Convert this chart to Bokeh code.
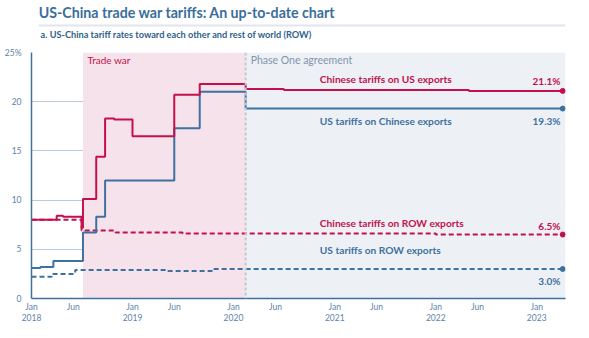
import pandas as pd
from bokeh.plotting import figure
from bokeh.layouts import column
from bokeh.models import Range1d, FixedTicker, BoxAnnotation, Span, Label
from bokeh.core.properties import value
from bokeh.embed import file_html
from bokeh.resources import INLINE

# ---- data ----
cn_us_dates = ["2018-01-01", "2018-04-02", "2018-04-25", "2018-07-01", "2018-07-06", "2018-08-23",
               "2018-09-24", "2018-10-27", "2019-01-01", "2019-06-01", "2019-09-01", "2020-02-14",
               "2020-07-01", "2022-05-01", "2023-04-05"]
cn_us_vals = [8.0, 8.4, 8.3, 7.2, 10.1, 14.4, 18.3, 18.2, 16.5, 20.7, 21.8, 21.3, 21.2, 21.1, 21.1]

us_cn_dates = ["2018-01-01", "2018-02-02", "2018-03-21", "2018-07-06", "2018-08-23", "2018-09-24",
               "2019-06-01", "2019-09-01", "2020-02-14", "2023-04-05"]
us_cn_vals = [3.1, 3.2, 3.8, 6.7, 8.3, 12.0, 17.3, 21.0, 19.3, 19.3]

cn_row_dates = ["2018-01-01", "2018-07-01", "2018-11-01", "2019-07-01", "2022-01-01", "2023-04-05"]
cn_row_vals = [8.0, 6.9, 6.7, 6.6, 6.5, 6.5]

us_row_dates = ["2018-01-01", "2018-03-15", "2018-06-08", "2019-05-10", "2019-10-15", "2023-04-05"]
us_row_vals = [2.2, 2.5, 2.9, 2.8, 3.0, 3.0]

tick_dates = ["2018-01-01", "2018-06-01", "2019-01-01", "2019-06-01", "2020-01-01", "2020-06-01",
              "2021-01-01", "2021-06-01", "2022-01-01", "2022-06-01", "2023-01-01"]
tick_labels = ["Jan\n2018", "Jun", "Jan\n2019", "Jun", "Jan\n2020", "Jun",
               "Jan\n2021", "Jun", "Jan\n2022", "Jun", "Jan\n2023"]
y_ticks = [0, 5, 10, 15, 20, 25]
y_labels = ["0", "5", "10", "15", "20", "25%"]

trade_war_start = "2018-07-06"
phase_one_start = "2020-02-14"

title_text = "US-China trade war tariffs: An up-to-date chart"
subtitle_text = "a. US-China tariff rates toward each other and rest of world (ROW)"


def ms(d):
    return pd.Timestamp(d).value / 1e6


RED = "#c4104c"
BLUE = "#3f71a0"
FONT = "Lato"

# ---- header ----
h = figure(width=589, height=46, output_backend="svg", toolbar_location=None,
           x_axis_location=None, y_axis_location=None, min_border=0,
           x_range=Range1d(0, 589), y_range=Range1d(46, 0))
h.outline_line_color = None
h.grid.grid_line_color = None
h.text(x=[8], y=[12], text=[title_text], text_baseline="middle", text_font=value(FONT),
       text_font_size="14.2px", text_font_style="bold", text_color="#3a6e9b")
h.segment(x0=[8], y0=[25], x1=[589], y1=[25], line_color="#e2e6ec", line_width=2)
h.text(x=[10], y=[34], text=[subtitle_text], text_baseline="middle", text_font=value(FONT),
       text_font_size="9.2px", text_font_style="bold", text_color="#2f5f8a")

# ---- main chart ----
p = figure(width=589, height=292, x_axis_type="datetime", output_backend="svg",
           toolbar_location=None, min_border_left=31, min_border_right=24,
           min_border_top=6, min_border_bottom=40)
p.x_range = Range1d(ms("2018-01-01"), ms("2023-04-15"))
p.y_range = Range1d(0, 25)
p.outline_line_color = None
p.background_fill_color = "white"
p.border_fill_color = "white"

p.add_layout(BoxAnnotation(left=ms(trade_war_start), right=ms(phase_one_start),
                           fill_color="#f6e2ea", fill_alpha=1, line_color=None, level="underlay"))
p.add_layout(BoxAnnotation(left=ms(phase_one_start), fill_color="#edf0f5", fill_alpha=1,
                           line_color=None, level="underlay"))
p.add_layout(Span(location=ms(phase_one_start), dimension="height", line_color="#c3c9d3",
                  line_width=2, line_dash="3 2"))

p.xgrid.grid_line_color = None
p.ygrid.grid_line_color = "#b9cadb"
p.ygrid.grid_line_width = 1
p.ygrid.ticker = FixedTicker(ticks=y_ticks)
p.yaxis.ticker = FixedTicker(ticks=y_ticks)
p.yaxis.major_label_overrides = {t: l for t, l in zip(y_ticks, y_labels)}
xt = [ms(d) for d in tick_dates]
p.xaxis.ticker = FixedTicker(ticks=xt)
p.xaxis.major_label_overrides = {t: l for t, l in zip(xt, tick_labels)}
for ax in (p.xaxis, p.yaxis):
    ax.axis_line_color = BLUE
    ax.axis_line_width = 1.5
    ax.major_tick_line_color = None
    ax.minor_tick_line_color = None
    ax.major_label_text_font = FONT
    ax.major_label_text_font_size = "8.5px"
    ax.major_label_text_color = "#5d83aa"
p.yaxis.major_label_standoff = 4
p.xaxis.major_label_standoff = -3
p.xaxis.major_label_text_line_height = 1.1

cn_us_x = pd.to_datetime(cn_us_dates)
us_cn_x = pd.to_datetime(us_cn_dates)
cn_row_x = pd.to_datetime(cn_row_dates)
us_row_x = pd.to_datetime(us_row_dates)

p.step(cn_row_x, cn_row_vals, mode="after", line_color=RED, line_width=2, line_dash="5 3")
p.step(us_row_x, us_row_vals, mode="after", line_color=BLUE, line_width=2, line_dash="5 3")
p.step(us_cn_x, us_cn_vals, mode="after", line_color=BLUE, line_width=2)
p.step(cn_us_x, cn_us_vals, mode="after", line_color=RED, line_width=2)

p.scatter([cn_us_x[-1]], [cn_us_vals[-1]], size=5, color=RED)
p.scatter([us_cn_x[-1]], [us_cn_vals[-1]], size=5, color=BLUE)
p.scatter([cn_row_x[-1]], [cn_row_vals[-1]], size=5, color=RED)
p.scatter([us_row_x[-1]], [us_row_vals[-1]], size=5, color=BLUE)

p.add_layout(Label(x=ms("2018-07-22"), y=24.2, text="Trade war", text_baseline="middle",
                   text_font=FONT, text_font_size="10px", text_color=RED))
p.add_layout(Label(x=ms("2020-03-03"), y=24.2, text="Phase One agreement", text_baseline="middle",
                   text_font=FONT, text_font_size="10.5px", text_color="#8196ad"))

lx = ms("2020-11-08")
rx = ms("2023-03-28")
series_labels = [
    ("Chinese tariffs on US exports", 22.3, RED, None),
    ("US tariffs on Chinese exports", 18.0, BLUE, None),
    ("Chinese tariffs on ROW exports", 7.7, RED, None),
    ("US tariffs on ROW exports", 4.95, BLUE, "#edf0f5"),
]
for txt, yv, col, bg in series_labels:
    p.add_layout(Label(x=lx, y=yv, text=txt, text_baseline="middle", text_font=FONT,
                       text_font_size="10.2px", text_font_style="bold", text_color=col,
                       background_fill_color=bg))
end_labels = [("21.1%", 22.15, RED), ("19.3%", 18.0, BLUE), ("6.5%", 7.35, RED), ("3.0%", 1.76, BLUE)]
for txt, yv, col in end_labels:
    p.add_layout(Label(x=rx, y=yv, text=txt, text_align="right", text_baseline="middle",
                       text_font=FONT, text_font_size="10px", text_font_style="bold", text_color=col))

layout = column(h, p, spacing=0)
open("out.html", "w").write(file_html(layout, INLINE))
